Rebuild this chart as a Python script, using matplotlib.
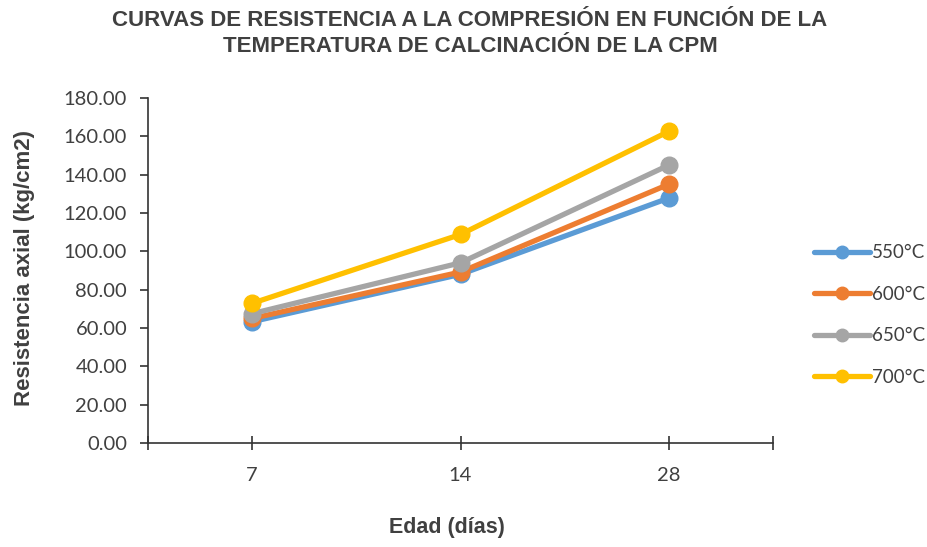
import matplotlib
matplotlib.use("Agg")
import matplotlib.pyplot as plt
from matplotlib.lines import Line2D

edades = ["7", "14", "28"]
temperaturas = ["550°C", "600°C", "650°C", "700°C"]
r_550 = [63.3, 88.0, 127.8]
r_600 = [65.0, 89.2, 135.0]
r_650 = [67.5, 94.0, 145.0]
r_700 = [72.9, 108.8, 162.6]
y_ticks = [0, 20, 40, 60, 80, 100, 120, 140, 160, 180]

series = [r_550, r_600, r_650, r_700]
colores = ["#5B9BD5", "#ED7D31", "#A5A5A5", "#FFC000"]
texto = "#404040"
tick_font = ["Lato", "DejaVu Sans"]
bold_font = ["Liberation Sans", "DejaVu Sans"]

fig = plt.figure(figsize=(9.27, 5.47), dpi=100)
ax = fig.add_axes([148 / 927, 1 - 443 / 547, 625 / 927, 345 / 547])

x = list(range(len(edades)))
for vals, c in zip(series, colores):
    ax.plot(x, vals, color=c, lw=3.8, marker="o", ms=12, solid_capstyle="round",
            zorder=3, clip_on=False)

ax.set_xlim(-0.5, len(edades) - 0.5)
ax.set_ylim(0, 180)
ax.set_yticks(y_ticks)
ax.set_yticklabels([f"{v:.2f}" for v in y_ticks], family=tick_font, fontsize=14.5, color=texto)
ax.set_xticks([-0.5] + x + [len(edades) - 0.5])
ax.set_xticklabels([""] + edades + [""], family=tick_font, fontsize=14.5, color=texto)

for s in ["top", "right"]:
    ax.spines[s].set_visible(False)
for s in ["left", "bottom"]:
    ax.spines[s].set_color("#333333")
    ax.spines[s].set_linewidth(1.2)
ax.tick_params(axis="y", direction="out", length=6, width=1.2, color="#333333", pad=9)
ax.tick_params(axis="x", direction="inout", length=10, width=1.2, color="#333333", pad=12)

fig.text(0.507, 0.982, "CURVAS DE RESISTENCIA A LA COMPRESIÓN EN FUNCIÓN DE LA\nTEMPERATURA DE CALCINACIÓN DE LA CPM",
         ha="center", va="top", fontsize=16, fontweight="bold", family=bold_font,
         color=texto, linespacing=1.35)
fig.text(447 / 927, 1 - 527 / 547, "Edad (días)", ha="center", va="center",
         fontsize=15.5, fontweight="bold", family=bold_font, color=texto)
fig.text(25 / 927, 1 - 268 / 547, "Resistencia axial (kg/cm2)", ha="center", va="center",
         rotation=90, fontsize=16, fontweight="bold", family=bold_font, color=texto)

handles = [Line2D([], [], color=c, lw=3.8, marker="o", ms=9, solid_capstyle="round")
           for c in colores]
leg = fig.legend(handles, temperaturas, loc="center left", bbox_to_anchor=(797 / 927, 1 - 315 / 547),
                 frameon=False, handlelength=3.0, handletextpad=0.1, labelspacing=1.3,
                 prop={"family": tick_font, "size": 13.5})
for t in leg.get_texts():
    t.set_color(texto)

fig.savefig("out.png", dpi=100)
